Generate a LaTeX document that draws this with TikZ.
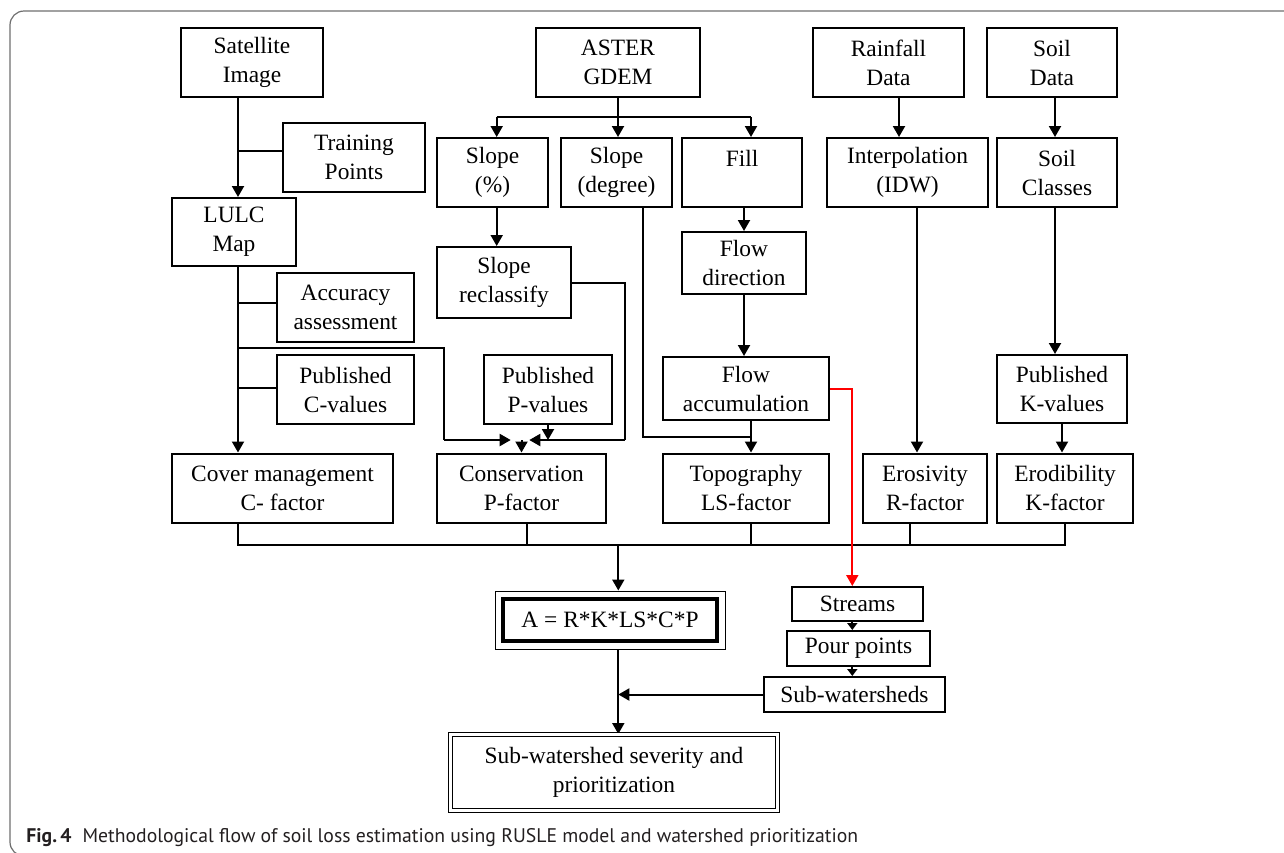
\documentclass[tikz,border=0pt]{standalone}
\usepackage{fontspec}
\setmainfont{Liberation Serif}
\newfontfamily\capfont{PT Sans}
\usetikzlibrary{arrows.meta,fit}
\pgfdeclarelayer{edgelayer}
\pgfdeclarelayer{nodelayer}
\pgfsetlayers{edgelayer,nodelayer,main}
\definecolor{framegray}{RGB}{110,110,110}
\definecolor{capgray}{RGB}{35,31,32}
\tikzset{font=\fontsize{11.7pt}{14.5pt}\selectfont}
\tikzstyle{none}=[inner sep=0pt]
\tikzstyle{box}=[rectangle,draw,line width=1pt,align=center,inner sep=0pt]
\tikzstyle{ln}=[line width=1pt]
\tikzstyle{arr}=[line width=1pt,-{Triangle[length=5.5pt,width=6pt]}]
\tikzstyle{sarr}=[line width=1pt,-{Triangle[length=3.5pt,width=5pt]}]

\begin{document}
\begin{tikzpicture}[x=0.5pt,y=-0.5pt]
	\useasboundingbox (0,0) rectangle (1284,852);
	\draw [color=framegray, line width=0.6pt, rounded corners=7] (1300,11) -- (10,11) -- (10,856) -- (1300,856);
	\begin{pgfonlayer}{nodelayer}
		% inputs
		\node [style=box, minimum width=71pt, minimum height=34.5pt] (1) at (252, 62.5) {Satellite\\Image};
		\node [style=box, minimum width=82pt, minimum height=34.5pt] (2) at (618, 62.5) {ASTER\\GDEM};
		\node [style=box, minimum width=75.5pt, minimum height=34.5pt] (3) at (888.5, 62.5) {Rainfall\\Data};
		\node [style=box, minimum width=65pt, minimum height=34.5pt] (4) at (1052, 62.5) {Soil\\Data};
		\node [style=box, minimum width=71pt, minimum height=34.5pt] (5) at (354, 157.5) {Training\\Points};
		\node [style=box, minimum width=55.5pt, minimum height=34.5pt] (6) at (492.5, 172.5) {Slope\\(\%)};
		\node [style=box, minimum width=55.5pt, minimum height=34.5pt] (7) at (616.5, 172.5) {Slope\\(degree)};
		\node [style=box, minimum width=60pt, minimum height=34.5pt] (8) at (742, 172.5) {Fill\\~};
		\node [style=box, minimum width=80.5pt, minimum height=34.5pt] (9) at (907.5, 172.5) {Interpolation\\(IDW)};
		\node [style=box, minimum width=60pt, minimum height=34.5pt] (10) at (1057, 172.5) {Soil\\Classes};
		\node [style=box, minimum width=62pt, minimum height=34pt] (11) at (234, 232) {LULC\\Map};
		\node [style=box, minimum width=67pt, minimum height=35.5pt] (12) at (504, 282.5) {Slope\\reclassify};
		\node [style=box, minimum width=62pt, minimum height=31pt] (13) at (744, 263) {Flow\\direction};
		\node [style=box, minimum width=68.5pt, minimum height=34.5pt] (14) at (345.5, 307.5) {Accuracy\\assessment};
		\node [style=box, minimum width=68.5pt, minimum height=34.5pt] (15) at (345.5, 389.5) {Published\\C-values};
		\node [style=box, minimum width=64pt, minimum height=34.5pt] (16) at (548, 389.5) {Published\\P-values};
		\node [style=box, minimum width=83pt, minimum height=31.5pt] (17) at (746, 388.5) {Flow\\accumulation};
		\node [style=box, minimum width=65pt, minimum height=34pt] (18) at (1062, 389) {Published\\K-values};
		% factors
		\node [style=box, minimum width=110.5pt, minimum height=34.5pt] (19) at (282.5, 488) {Cover management\\C- factor};
		\node [style=box, minimum width=84.5pt, minimum height=34.5pt] (20) at (521.5, 488) {Conservation\\P-factor};
		\node [style=box, minimum width=83pt, minimum height=34.5pt] (21) at (746, 488) {Topography\\LS-factor};
		\node [style=box, minimum width=62pt, minimum height=34.5pt] (22) at (925, 488) {Erosivity\\R-factor};
		\node [style=box, minimum width=68pt, minimum height=34.5pt] (23) at (1065, 488) {Erodibility\\K-factor};
		% outputs
		\node [style=box, line width=2pt, minimum width=107pt, minimum height=21pt] (24) at (610, 620) {A = R*K*LS*C*P};
		\node [draw, line width=0.5pt, inner sep=3pt, fit=(24)] (56) {};
		\node [style=box, line width=0.5pt, double, double distance=1.5pt, minimum width=163.5pt, minimum height=38pt] (25) at (614, 772.5) {Sub-watershed severity and\\prioritization};
		\node [style=box, minimum width=65.5pt, minimum height=17pt] (26) at (857.5, 604) {Streams};
		\node [style=box, minimum width=71.5pt, minimum height=17.5pt] (27) at (858.5, 648.5) {Pour points};
		\node [style=box, minimum width=90.5pt, minimum height=17.5pt] (28) at (854.5, 694.5) {Sub-watersheds};
		% joints
		\node [style=none] (30) at (238, 150.7) {};
		\node [style=none] (31) at (618, 117.3) {};
		\node [style=none] (32) at (496.7, 117.3) {};
		\node [style=none] (33) at (751, 117.3) {};
		\node [style=none] (34) at (751, 436.7) {};
		\node [style=none] (35) at (642.7, 436.7) {};
		\node [style=none] (36) at (624.7, 282.5) {};
		\node [style=none] (37) at (624.7, 440) {};
		\node [style=none] (38) at (529.3, 440) {};
		\node [style=none] (39) at (238, 303.3) {};
		\node [style=none] (40) at (238, 388.3) {};
		\node [style=none] (41) at (238, 348.3) {};
		\node [style=none] (42) at (444, 348.3) {};
		\node [style=none] (43) at (444, 440) {};
		\node [style=none] (44) at (510.7, 440) {};
		\node [style=none] (45) at (548, 440) {};
		\node [style=none] (46) at (521.5, 440) {};
		\node [style=none] (47) at (917, 207) {};
		\node [style=none] (48) at (1055, 97) {};
		\node [style=none] (49) at (899, 97) {};
		\node [style=none] (50) at (238, 545) {};
		\node [style=none] (51) at (1065, 545) {};
		\node [style=none] (52) at (618.3, 545) {};
		\node [style=none] (53) at (526.7, 545) {};
		\node [style=none] (54) at (751, 545) {};
		\node [style=none] (55) at (910, 545) {};
		\node [style=none] (57) at (852.3, 388.5) {};
		\node [style=none, anchor=base west, text=capgray] (60) at (26, 842) {\capfont\fontsize{9.85pt}{11pt}\selectfont\textbf{Fig.\,4}\hspace{5.5pt}Methodological flow of soil loss estimation using RUSLE model and watershed prioritization};
	\end{pgfonlayer}
	\begin{pgfonlayer}{edgelayer}
		\draw [style=arr] (30.center |- 1.south) to (30.center |- 11.north);
		\draw [style=ln] (30.center) to (30.center -| 5.west);
		\draw [style=ln] (2.south) to (31.center);
		\draw [style=ln] (32.center) to (33.center);
		\draw [style=arr] (32.center) to (32.center |- 6.north);
		\draw [style=arr] (31.center) to (31.center |- 7.north);
		\draw [style=arr] (33.center) to (33.center |- 8.north);
		\draw [style=arr] (32.center |- 6.south) to (32.center |- 12.north);
		\draw [style=ln] (12.east) to (36.center) to (37.center);
		\draw [style=arr] (37.center) to (38.center);
		\draw [style=arr] (13.north |- 8.south) to (13.north);
		\draw [style=arr] (13.south) to (13.south |- 17.north);
		\draw [style=ln] (35.center |- 7.south) to (35.center) to (34.center);
		\draw [style=arr] (34.center |- 17.south) to (34.center |- 21.north);
		\draw [style=arr] (49.center) to (49.center |- 9.north);
		\draw [style=arr] (47.center) to (47.center |- 22.north);
		\draw [style=arr] (48.center) to (48.center |- 10.north);
		\draw [style=arr] (48.center |- 10.south) to (48.center |- 18.north);
		\draw [style=arr] (18.south) to (18.south |- 23.north);
		\draw [style=arr] (30.center |- 11.south) to (30.center |- 19.north);
		\draw [style=ln] (39.center) to (39.center -| 14.west);
		\draw [style=ln] (40.center) to (40.center -| 15.west);
		\draw [style=ln] (41.center) to (42.center) to (43.center);
		\draw [style=arr] (43.center) to (44.center);
		\draw [style=arr] (16.south) to (45.center);
		\draw [style=arr] (46.center) to (20.north);
		\draw [style=ln] (50.center |- 19.south) to (50.center) to (51.center) to (51.center |- 23.south);
		\draw [style=ln] (53.center |- 20.south) to (53.center);
		\draw [style=ln] (54.center |- 21.south) to (54.center);
		\draw [style=ln] (55.center |- 22.south) to (55.center);
		\draw [style=arr] (52.center) to (52.center |- 56.north);
		\draw [style=arr] (52.center |- 56.south) to (52.center |- 25.north);
		\draw [style=arr] (28.west) to (28.west -| 52.center);
		\draw [style=arr, red] (17.east) to (57.center) to (57.center |- 26.north);
		\draw [style=sarr] (57.center |- 26.south) to (57.center |- 27.north);
		\draw [style=sarr] (57.center |- 27.south) to (57.center |- 28.north);
	\end{pgfonlayer}
\end{tikzpicture}
\end{document}
